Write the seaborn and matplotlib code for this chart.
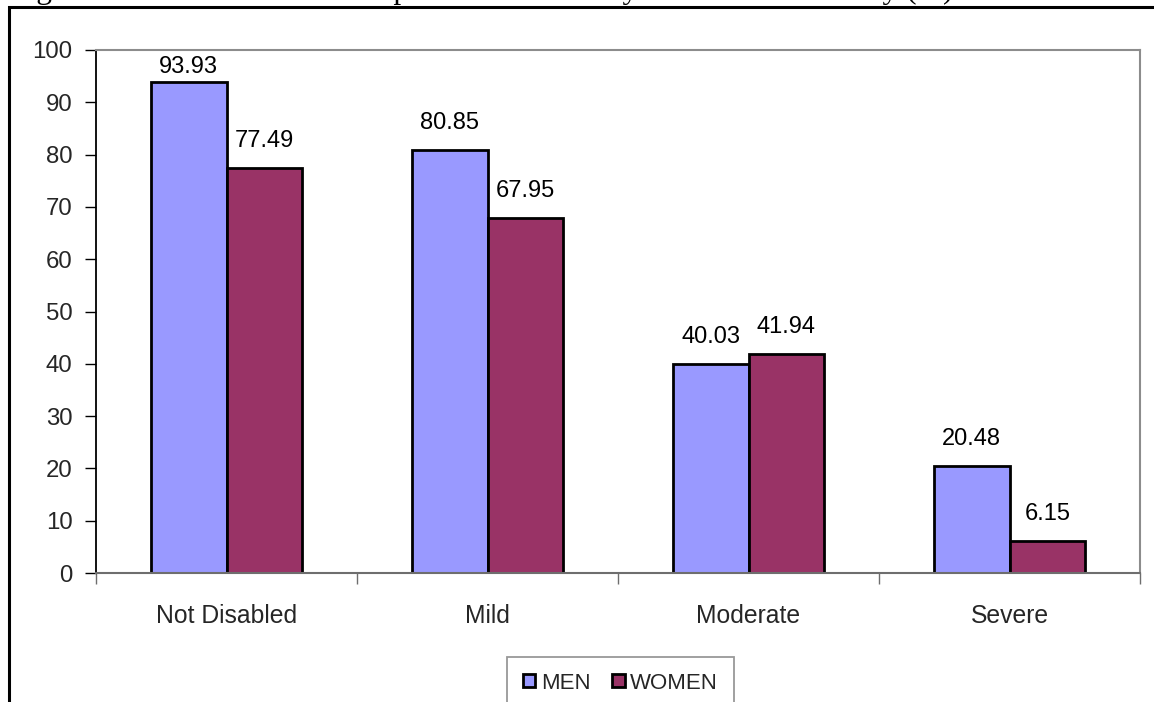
import matplotlib
matplotlib.use("Agg")
import matplotlib.pyplot as plt
import matplotlib.patches as mpatches
import numpy as np
import pandas as pd
import seaborn as sns

# Labour force participation (%) by severity of disability
categories = ["Not Disabled", "Mild", "Moderate", "Severe"]
men = [93.93, 80.85, 40.03, 20.48]
women = [77.49, 67.95, 41.94, 6.15]
series_names = ["MEN", "WOMEN"]
series_colors = ["#9999FF", "#993366"]
y_ticks = list(range(0, 101, 10))
title = "Figure 4: Labour Force Participation and Severity of Global Disability (%)"

df = pd.DataFrame({
    "category": categories * 2,
    "series": [series_names[0]] * len(categories) + [series_names[1]] * len(categories),
    "value": men + women,
})

sns.set_style("white")
plt.rcParams["font.family"] = ["Liberation Sans", "DejaVu Sans"]

W, H = 1154, 702
fig = plt.figure(figsize=(W / 100, H / 100), dpi=100)
fig.patch.set_facecolor("white")

# outer chart-area frame, running off the right and bottom edges
frame = mpatches.Rectangle((9 / W, -0.05), 1.2, 1 - 7 / H + 0.05,
                           transform=fig.transFigure, fill=False,
                           edgecolor="black", linewidth=2.2, zorder=0)
fig.add_artist(frame)

# caption line sitting above the frame
fig.text(10 / W, 1 + 2.5 / H, title, family=["Liberation Serif", "DejaVu Serif"],
         fontsize=22.7, va="baseline", ha="left", color="black")

ax = fig.add_axes([96 / W, 1 - 573 / H, (1140 - 96) / W, (573 - 50) / H])

sns.barplot(data=df, x="category", y="value", hue="series",
            order=categories, hue_order=series_names,
            palette=series_colors, width=0.58, edgecolor="black",
            linewidth=2.0, saturation=1, ax=ax, legend=False)

# value labels above each bar, kept inside the plot area
label_cap = 91.6
for cont in ax.containers:
    for rect in cont:
        v = rect.get_height()
        xc = rect.get_x() + rect.get_width() / 2
        ax.annotate(f"{v:.2f}", xy=(xc, min(v, label_cap)),
                    xytext=(0, 27), textcoords="offset pixels",
                    ha="center", va="center", fontsize=17, color="black")

ax.set_xlim(-0.5, len(categories) - 0.5)
ax.set_ylim(0, 100)
ax.set_yticks(y_ticks)
ax.set_xlabel("")
ax.set_ylabel("")

# spines
ax.spines["left"].set_color("black")
ax.spines["left"].set_linewidth(1.3)
ax.spines["bottom"].set_color("#6e6e6e")
ax.spines["bottom"].set_linewidth(1.5)
for s in ("top", "right"):
    ax.spines[s].set_visible(True)
    ax.spines[s].set_color("#8c8c8c")
    ax.spines[s].set_linewidth(1.5)

ax.tick_params(axis="y", which="major", direction="out", length=8, width=1.0,
               color="black", labelsize=17.3, pad=9, left=True)
ax.tick_params(axis="x", which="major", length=0, labelsize=17.8, pad=22)
# boundary ticks between categories
ax.set_xticks(np.arange(-0.5, len(categories), 1.0), minor=True)
ax.tick_params(axis="x", which="minor", direction="out", length=8, width=1.0,
               color="#6e6e6e", bottom=True)

handles = [mpatches.Patch(facecolor=c, edgecolor="black", linewidth=2.0, label=n)
           for n, c in zip(series_names, series_colors)]
leg = fig.legend(handles=handles, loc="upper center",
                 bbox_to_anchor=(620.5 / W, 1 - 657 / H), ncol=2,
                 frameon=True, fancybox=False, edgecolor="#7f7f7f",
                 fontsize=16, handlelength=0.55, handleheight=0.55,
                 handletextpad=0.25, columnspacing=1.0, borderpad=0.7,
                 borderaxespad=0)
leg.get_frame().set_linewidth(1.3)

fig.savefig("out.png", dpi=100, facecolor="white")
